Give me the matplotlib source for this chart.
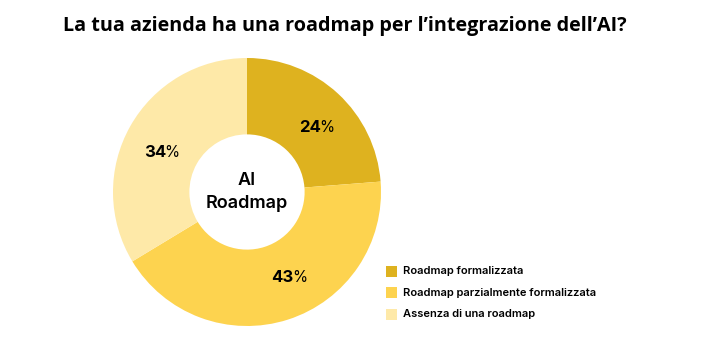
import numpy as np
import matplotlib.pyplot as plt
from matplotlib.patches import Rectangle

# data
categories = ['Roadmap formalizzata', 'Roadmap parzialmente formalizzata', 'Assenza di una roadmap']
values = [24, 43, 34]
colors = ['#DEB21F', '#FDD34F', '#FEE9A8']
title = 'La tua azienda ha una roadmap per l\u2019integrazione dell\u2019AI?'
center_label = 'AI\nRoadmap'
# small angular nudges (deg) of the % labels from the wedge middle
label_nudge = [-4, 8, 5]

W, H = 702, 361
fig = plt.figure(figsize=(W / 100, H / 100), dpi=100)
fig.patch.set_facecolor('white')

fig.text(345 / W, 1 - 26 / H, title, ha='center', va='center',
         fontsize=14.2, fontweight='bold', family='Open Sans')

# donut
cx, cy, r = 247, 192, 134
ax = fig.add_axes([(cx - r) / W, (H - cy - r) / H, 2 * r / W, 2 * r / H])
inner = 0.43
wedges, _ = ax.pie(values, colors=colors, startangle=90, counterclock=False,
                   radius=1, wedgeprops=dict(width=1 - inner, edgecolor='none'))
ax.set_xlim(-1, 1)
ax.set_ylim(-1, 1)
ax.set_aspect('equal')
ax.axis('off')

ax.text(0, 0, center_label, ha='center', va='center', fontsize=13,
        fontweight='semibold', family='Inter', linespacing=1.45)

for v, w, nd in zip(values, wedges, label_nudge):
    mid = np.deg2rad((w.theta1 + w.theta2) / 2 + nd)
    rr = 0.705
    x, y = rr * np.cos(mid), rr * np.sin(mid)
    t = ax.text(x - 0.045, y, str(v), ha='center', va='center', fontsize=12,
                fontweight='bold', family='Inter')
    ax.annotate('%', xy=(1, 0), xycoords=t, xytext=(-1.0, 0), textcoords='offset points',
                ha='left', va='bottom', fontsize=11, family='Inter')

# legend
lx, ly0, dy = 386, 271, 21.5
for i, (c, lab) in enumerate(zip(colors, categories)):
    y = ly0 + i * dy
    fig.patches.append(Rectangle((lx / W, 1 - (y + 5.5) / H), 11 / W, 11 / H,
                                 transform=fig.transFigure, facecolor=c, edgecolor='none'))
    fig.text(403 / W, 1 - y / H, lab, ha='left', va='center', fontsize=8,
             fontweight='semibold', family='Inter')

fig.savefig('out.png', dpi=100, facecolor='white')
